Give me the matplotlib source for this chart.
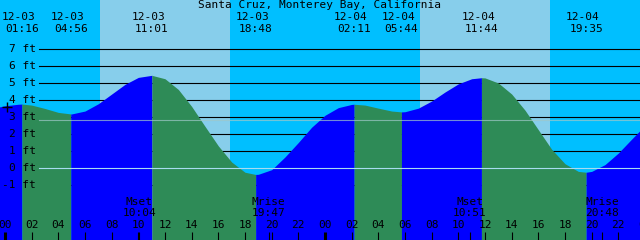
import numpy as np
import matplotlib
matplotlib.use("Agg")
import matplotlib.pyplot as plt
from matplotlib.transforms import blended_transform_factory

# Tide chart, Santa Cruz. Times are hours since 12-03 00:00, heights in ft.
title = "Santa Cruz, Monterey Bay, California"

hours = list(range(-1, 49))
heights = [3.50, 3.66, 3.75, 3.70, 3.50, 3.27, 3.18, 3.35, 3.78, 4.35,
           4.92, 5.33, 5.45, 5.25, 4.62, 3.62, 2.45, 1.30, 0.35, -0.25,
           -0.37, -0.10, 0.65, 1.50, 2.40, 3.10, 3.55, 3.74, 3.70, 3.52,
           3.35, 3.31, 3.52, 3.94, 4.47, 4.95, 5.25, 5.30, 5.00, 4.35,
           3.40, 2.25, 1.10, 0.25, -0.20, -0.20, 0.20, 0.88, 1.70, 2.50]

event_hours = [1 + 16/60, 4 + 56/60, 11 + 1/60, 18 + 48/60,
               26 + 11/60, 29 + 44/60, 35 + 44/60, 43 + 35/60]
event_heights = [3.76, 3.18, 5.45, -0.38, 3.75, 3.30, 5.31, -0.25]
event_dates = ["12-03", "12-03", "12-03", "12-03",
               "12-04", "12-04", "12-04", "12-04"]
event_times = ["01:16", "04:56", "11:01", "18:48",
               "02:11", "05:44", "11:44", "19:35"]

sunrise = [7 + 8/60, 31 + 8/60]
sunset = [16 + 52/60, 40 + 52/60]

moon_hours = [10 + 4/60, 19 + 47/60, 34 + 51/60, 44 + 48/60]
moon_kinds = ["Mset", "Mrise", "Mset", "Mrise"]
moon_times = ["10:04", "19:47", "10:51", "20:48"]

ft_levels = [-1, 0, 1, 2, 3, 4, 5, 6, 7]
mean_level = 2.82
now_hour, now_height = 0.15, 3.56

NIGHT = "#00BFFF"
DAY = "#87CEEB"
FLOOD = "#0000FF"
EBB = "#2E8B57"

plt.rcParams["font.family"] = ["DejaVu Sans Mono"]
plt.rcParams["font.size"] = 8

W, H = 640, 240
px_per_hour = 40 / 3.0
px_per_ft = 17.0
x0_px, zero_px = 5, 168   # pixel column of 12-03 00:00, pixel row of 0 ft


def py(row):
    # pixel row -> ft
    return (zero_px - row) / px_per_ft


fig = plt.figure(figsize=(W / 100, H / 100), dpi=100, facecolor=NIGHT)
ax = fig.add_axes([0, 0, 1, 1])
ax.set_xlim(-x0_px / px_per_hour, (W - x0_px) / px_per_hour)
ax.set_ylim(py(H), py(0))
ax.axis("off")
ymin = py(H)

for sr, ss in zip(sunrise, sunset):
    ax.axvspan(sr, ss, color=DAY, lw=0, zorder=0)

grid_start = 39 / W
for lv in ft_levels:
    if lv != 0:
        ax.axhline(lv, xmin=grid_start, color="black", lw=0.8, zorder=1)

# water, coloured by rising (flood) / falling (ebb)
t = np.array(hours + event_hours, dtype=float)
h = np.array(heights + event_heights, dtype=float)
order = np.argsort(t)
t, h = t[order], h[order]
bounds = [t[0]] + event_hours + [t[-1]]
for i in range(len(bounds) - 1):
    m = (t >= bounds[i]) & (t <= bounds[i + 1])
    ax.fill_between(t[m], h[m], ymin, color=FLOOD if i % 2 == 0 else EBB,
                    lw=0, zorder=2)

ax.axhline(mean_level, xmin=grid_start, color="#A0C8C8", alpha=0.7, lw=0.8, zorder=3)
ax.axhline(0, xmin=grid_start, color="#A8DCF0", lw=0.8, zorder=3)

ax.plot([now_hour], [now_height], marker="+", color="black", ms=6.5, mew=1, zorder=5)

# ft labels on the left
lab_tr = blended_transform_factory(ax.transAxes, ax.transData)
for lv in ft_levels:
    ax.text(36 / W, lv, "%d ft" % lv, transform=lab_tr, ha="right", va="center",
            zorder=6)

ax.text(0.5, py(5.5), title, transform=lab_tr, ha="center", va="center", zorder=6)

# tide event labels along the top
char_w = 6.7 / px_per_hour
for eh, d, tm in zip(event_hours, event_dates, event_times):
    ax.text(eh - char_w / 2, py(17.5), d, ha="center", va="center", zorder=6)
    ax.text(eh, py(29), tm, ha="center", va="center", zorder=6)

# hour ticks and labels
tick_lo, tick_hi = py(240), py(232)
for hr in range(0, 49, 2):
    ax.vlines(hr, tick_lo, tick_hi, color="black",
              lw=2.2 if hr % 24 == 0 else 0.8, zorder=6)
    ax.text(hr, py(225), "%02d" % (hr % 24), ha="center", va="center", zorder=6)

for mh, kind, tm in zip(moon_hours, moon_kinds, moon_times):
    ax.vlines(mh, tick_lo, tick_hi, color="black", lw=0.8, zorder=6)
    ax.text(mh, py(202), kind, ha="center", va="center", zorder=6)
    ax.text(mh, py(213.5), tm, ha="center", va="center", zorder=6)

fig.savefig("out.png", dpi=100, facecolor=NIGHT)
